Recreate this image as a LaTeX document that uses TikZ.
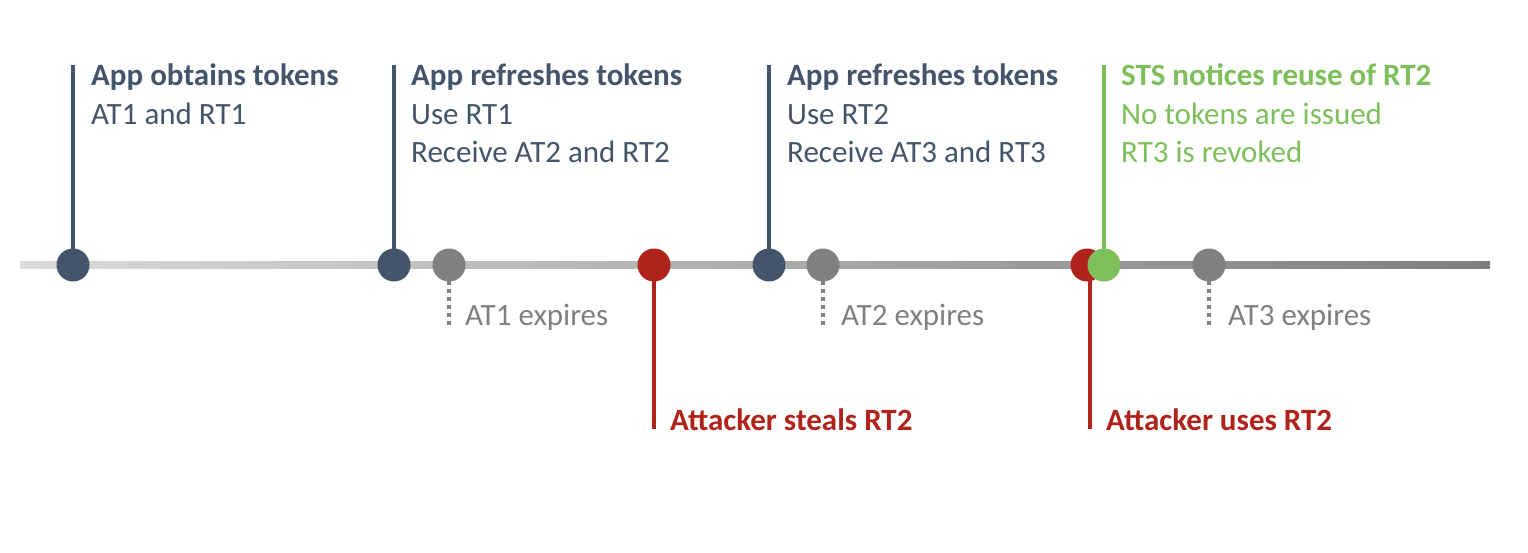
\documentclass[tikz,border=0pt]{standalone}
\usepackage{fontspec}
\setmainfont{Carlito}
\definecolor{slate}{HTML}{44546A}
\definecolor{midgray}{HTML}{808080}
\definecolor{attred}{HTML}{B0231A}
\definecolor{stsgreen}{HTML}{7CBF5B}
\definecolor{tlleft}{HTML}{DADADA}
\definecolor{tlright}{HTML}{7F7F7F}
\begin{document}
\begin{tikzpicture}[x=1pt,y=-1pt,
  dot/.style={circle,minimum size=33pt,inner sep=0pt,draw=none,fill=#1},
  stem/.style={line width=4pt,#1},
  dotted stem/.style={line width=4pt,midgray,dash pattern=on 4pt off 4pt},
  lbl/.style={anchor=base west,inner sep=0pt,font=\fontsize{31}{36}\selectfont,text=#1},
  blbl/.style={lbl=#1,font=\fontsize{31}{36}\selectfont\bfseries}]
\useasboundingbox (0,0) rectangle (1528,552);
% timeline
\coordinate (tlA) at (20,261.5);
\coordinate (tlB) at (1490,268.5);
\shade[left color=tlleft,right color=tlright] (tlA) rectangle (tlB);
% top coordinates
\coordinate (u1) at (73,65);
\coordinate (u2) at (394,65);
\coordinate (u3) at (769,65);
\coordinate (u4) at (1104,65);
\coordinate (d1) at (654,429);
\coordinate (d2) at (1090,429);
\coordinate (e1) at (449,325);
\coordinate (e2) at (823,325);
\coordinate (e3) at (1209,325);
% circle positions
\coordinate (p1) at (73,265);
\coordinate (p2) at (394,265);
\coordinate (p3) at (449,265);
\coordinate (p4) at (654,265);
\coordinate (p5) at (769,265);
\coordinate (p6) at (823,265);
\coordinate (p7) at (1087,265);
\coordinate (p8) at (1104,265);
\coordinate (p9) at (1209,265);
% stems
\draw[stem=slate] (p1) -- (u1);
\draw[stem=slate] (p2) -- (u2);
\draw[stem=slate] (p5) -- (u3);
\draw[stem=stsgreen] (p8) -- (u4);
\draw[stem=attred] (p4) -- (d1);
\draw[stem=attred] (1090,265) -- (d2);
\draw[dotted stem] (p3) ++(0,16) -- (e1);
\draw[dotted stem] (p6) ++(0,16) -- (e2);
\draw[dotted stem] (p9) ++(0,16) -- (e3);
% circles
\node[dot=slate] (c1) at (p1) {};
\node[dot=slate] (c2) at (p2) {};
\node[dot=midgray] (c3) at (p3) {};
\node[dot=attred] (c4) at (p4) {};
\node[dot=slate] (c5) at (p5) {};
\node[dot=midgray] (c6) at (p6) {};
\node[dot=attred] (c7) at (p7) {};
\node[dot=stsgreen] (c8) at (p8) {};
\node[dot=midgray] (c9) at (p9) {};
% labels above
\node[blbl=slate] (a1) at (91,85) {App obtains tokens};
\node[lbl=slate] (a2) at (91,124) {AT1 and RT1};
\node[blbl=slate] (b1) at (411,85) {App refreshes tokens};
\node[lbl=slate] (b2) at (411,124) {Use RT1};
\node[lbl=slate] (b3) at (411,162) {Receive AT2 and RT2};
\node[blbl=slate] (f1) at (787,85) {App refreshes tokens};
\node[lbl=slate] (f2) at (787,124) {Use RT2};
\node[lbl=slate] (f3) at (787,162) {Receive AT3 and RT3};
\node[blbl=stsgreen] (g1) at (1121,85) {STS notices reuse of RT2};
\node[lbl=stsgreen] (g2) at (1121,124) {No tokens are issued};
\node[lbl=stsgreen] (g3) at (1121,162) {RT3 is revoked};
% labels below
\node[lbl=midgray] (x1) at (465,325) {AT1 expires};
\node[lbl=midgray] (x2) at (841,325) {AT2 expires};
\node[lbl=midgray] (x3) at (1228,325) {AT3 expires};
\node[blbl=attred] (r1) at (670,430) {Attacker steals RT2};
\node[blbl=attred] (r2) at (1106,430) {Attacker uses RT2};
\end{tikzpicture}
\end{document}
